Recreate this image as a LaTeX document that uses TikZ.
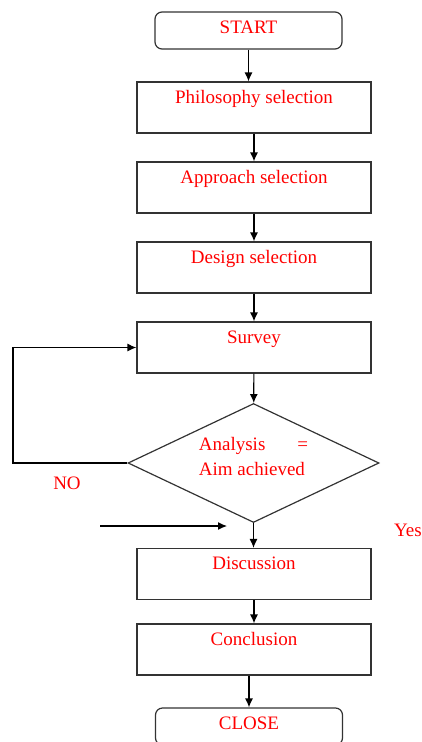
\documentclass[tikz,border=0pt]{standalone}
\usepackage{fontspec}
\setmainfont{Liberation Serif}
\usetikzlibrary{shapes.geometric, arrows.meta, positioning}
\tikzstyle{stepbox} = [rectangle, draw=black!80, line width=1.2pt, minimum width=234pt, inner sep=0pt, text height=21pt, text depth=30pt, text=red, font=\fontsize{19}{23}\selectfont]
\tikzstyle{arrow} = [line width=1.2pt, -{Latex[length=9pt,width=8pt]}]

\begin{document}
\begin{tikzpicture}[x=1pt, y=-1pt,
    endbox/.style={stepbox, rounded corners=7pt, minimum width=187pt, text depth=16pt},
    decision/.style={diamond, draw=black!80, line width=1.2pt, minimum width=251pt, minimum height=119pt, inner sep=0pt},
    answer/.style={text=red, font=\fontsize{19}{23}\selectfont, inner sep=0pt}
  ]
    \useasboundingbox (0,0) rectangle (422,742);

    % Steps
    \node[endbox]  (start)      at (248.5,30.5) {START};
    \node[stepbox] (philosophy) at (254,107.5) {Philosophy selection};
    \node[stepbox] (approach)   at (254,187.5) {Approach selection};
    \node[stepbox] (design)     at (254,267.5) {Design selection};
    \node[stepbox] (survey)     at (254,347.5) {Survey};

    % Decision
    \node[decision] (check) at (253.5,463) {};
    \node[answer, align=left] (checktext) at (253.5,456) {Analysis\hspace{32pt}=\\[2pt]Aim achieved};
    \node[answer] (no)  at (67,483) {NO};
    \node[answer] (yes) at (408,530) {Yes};

    \node[stepbox] (discussion) at (254,574) {Discussion};
    \node[stepbox] (conclusion) at (254,649.5) {Conclusion};
    \node[endbox]  (close)      at (249,726.5) {CLOSE};

    % Arrows between steps
    \draw[arrow] (start) -- (start |- philosophy.north);
    \draw[arrow] (philosophy) -- (approach);
    \draw[arrow] (approach) -- (design);
    \draw[arrow] (design) -- (survey);
    \draw[arrow] (survey) -- (check);
    \draw[arrow] (check) -- (check |- discussion.north);
    \draw[arrow] (discussion) -- (conclusion);
    \draw[arrow] (close |- conclusion.south) -- (close);

    % NO loop back to survey
    \coordinate (loop) at (13,463);
    \draw[arrow] (check.west) -- (loop) |- (survey.west);

    % loose arrow under the diamond
    \coordinate (inA) at (100,526);
    \coordinate (inB) at (227,526);
    \draw[arrow] (inA) -- (inB);
\end{tikzpicture}
\end{document}
